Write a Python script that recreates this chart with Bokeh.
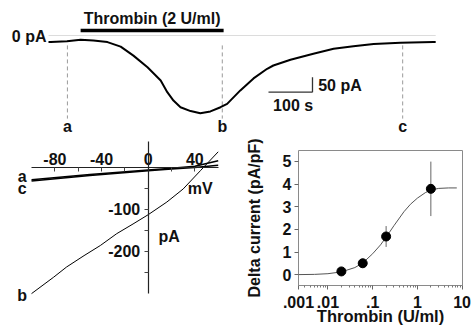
from bokeh.plotting import figure
from bokeh.layouts import column, row
from bokeh.models import LinearAxis, FixedTicker, Range1d
from bokeh.core.properties import value
from bokeh.embed import file_html
from bokeh.resources import INLINE

FONT = "Liberation Sans"
TXT = "#111111"

# ---------------- data: current trace (top) ----------------
trace_time_s = [0, 5, 42, 73, 102, 134, 164, 193, 225, 255, 270, 284, 300, 323, 345,
                368, 391, 406, 436, 466, 497, 511, 550, 602, 648, 693, 739, 800, 875, 880]
trace_current_pA = [-22, -22, -19, -14, -17, -22, -37, -67, -106, -150, -189, -217, -239,
                    -252, -259, -253, -239, -228, -183, -143, -111, -100, -81, -61, -44,
                    -36, -28, -24, -22, -22]
ramp_labels = ["a", "b", "c"]
ramp_times_s = [43, 395, 805]
thrombin_start_s = 73
thrombin_end_s = 398
thrombin_text = "Thrombin (2 U/ml)"
scale_time_s = 100
scale_current_pA = 50

# ---------------- data: I-V ramps (bottom left) ----------------
iv_a_mV = [-100, -50, 0, 20, 40, 60]
iv_a_pA = [-30, -18, -7, -3, 2, 15]
iv_c_mV = [-100, -50, 0, 20, 40, 60]
iv_c_pA = [-33, -20, -9, -5, -1, 4]
iv_b_mV = [-100, -81, -70, -55, -41, -27, -13, 0, 16, 30, 45, 60]
iv_b_pA = [-300, -261, -237, -210, -186, -158, -135, -113, -83, -52, -8, 36]
iv_x_ticks = [-80, -60, -40, -20, 0, 20, 40]
iv_x_labels = ["-80", "", "-40", "", "0", "", "40"]
iv_y_ticks = [-250, -200, -150, -100, -50]
iv_y_labels = ["", "-200", "", "-100", ""]

# ---------------- data: dose response (bottom right) ----------------
dose_U_ml = [0.02, 0.06, 0.2, 2.0]
delta_pA_pF = [0.15, 0.51, 1.69, 3.79]
delta_err = [0.05, 0.2, 0.46, 1.2]
fit_dose = [0.0022, 0.005, 0.01, 0.02, 0.04, 0.06, 0.1, 0.15, 0.2, 0.3, 0.5, 0.7,
            1.0, 1.5, 2.0, 3.0, 5.0, 7.6]
fit_delta = [0.01, 0.02, 0.05, 0.13, 0.32, 0.52, 0.93, 1.32, 1.66, 2.17, 2.78, 3.11,
             3.38, 3.62, 3.74, 3.81, 3.83, 3.83]
dr_x_start = 0.0022
dr_x_ticks = [dr_x_start, 0.01, 0.1, 1, 10]
dr_x_labels = [".001", ".01", ".1", "1", "10"]
dr_y_ticks = [0, 1, 2, 3, 4, 5]
dr_y_title = "Delta current (pA/pF)"
dr_x_title = "Thrombin (U/ml)"


def txt(p, x, y, t, align="center", baseline="middle", size="16px"):
    p.text(x=x, y=y, text=t, text_font=value(FONT), text_font_style="bold",
           text_font_size=size, text_color=TXT, text_align=align,
           text_baseline=baseline)


# ================= top: whole-cell current =================
top = figure(width=471, height=137, x_range=Range1d(-109.1, 961.4),
             y_range=Range1d(-340, 116.7), output_backend="svg",
             toolbar_location=None, x_axis_location=None, y_axis_location=None,
             min_border=0, outline_line_color=None, frame_align=False)
top.grid.visible = False

top.line([trace_time_s[0], trace_time_s[-1]], [0, 0], color="#dcdcdc", line_width=1)
top.segment(x0=ramp_times_s, y0=-33, x1=ramp_times_s, y1=-277,
            line_color="#9a9a9a", line_width=1, line_dash="4 3")
top.line(trace_time_s, trace_current_pA, color="black", line_width=2)
txt(top, ramp_times_s, [-303] * 3, ramp_labels)

top.segment(x0=[thrombin_start_s], y0=[17], x1=[thrombin_end_s], y1=[17],
            line_color="black", line_width=3.5)
txt(top, [(thrombin_start_s + thrombin_end_s) / 2], [57], [thrombin_text])
txt(top, [-4.5], [-4], ["0 pA"], align="right")

sb_t, sb_i = 500, -189
top.segment(x0=[sb_t, sb_t + scale_time_s], y0=[sb_i, sb_i],
            x1=[sb_t + scale_time_s, sb_t + scale_time_s],
            y1=[sb_i, sb_i + scale_current_pA], line_color="#333333", line_width=1.3)
txt(top, [sb_t + scale_time_s + 13], [sb_i + 24], [f"{scale_current_pA} pA"], align="left")
txt(top, [sb_t + scale_time_s / 2 + 6], [sb_i - 44], [f"{scale_time_s} s"])

# ================= bottom left: I-V =================
iv = figure(width=231, height=190, x_range=Range1d(-126.6, 71.4),
            y_range=Range1d(-380.3, 69.9), output_backend="svg",
            toolbar_location=None, x_axis_location=None, y_axis_location=None,
            min_border=0, outline_line_color=None, frame_align=False)
iv.grid.visible = False

xax = LinearAxis(fixed_location=0, bounds=(-100, 60),
                 ticker=FixedTicker(ticks=iv_x_ticks),
                 major_label_overrides=dict(zip(iv_x_ticks, iv_x_labels)))
yax = LinearAxis(fixed_location=0, bounds=(-300, 60),
                 ticker=FixedTicker(ticks=iv_y_ticks),
                 major_label_overrides=dict(zip(iv_y_ticks, iv_y_labels)))
for ax in (xax, yax):
    ax.axis_line_color = "#222222"
    ax.axis_line_width = 1.2
    ax.major_tick_line_color = "#444444"
    ax.minor_tick_line_color = None
    ax.major_label_text_font = FONT
    ax.major_label_text_font_style = "bold"
    ax.major_label_text_font_size = "16px"
    ax.major_label_text_color = TXT
xax.major_tick_in = 4
xax.major_tick_out = 0
xax.major_label_standoff = 2
yax.major_tick_in = 0
yax.major_tick_out = 4
yax.major_label_standoff = 4
iv.add_layout(xax, "above")
iv.add_layout(yax, "left")

iv.line(iv_a_mV, iv_a_pA, color="black", line_width=1.5)
iv.line(iv_c_mV, iv_c_pA, color="black", line_width=1.5)
iv.line(iv_b_mV, iv_b_pA, color="black", line_width=1)
txt(iv, [-108, -108, -108], [-22, -51, -304], ["a", "c", "b"])
txt(iv, [44.6], [-51], ["mV"])
txt(iv, [18], [-165], ["pA"])

# ================= bottom right: dose response =================
dr = figure(width=240, height=190, x_axis_type="log",
            x_range=Range1d(dr_x_start, 10.2), y_range=Range1d(-0.47, 5.48),
            output_backend="svg", toolbar_location=None,
            min_border_left=67, min_border_right=9, min_border_top=13,
            min_border_bottom=42, outline_line_color="#8a8a8a", frame_align=False)
dr.grid.visible = False
minor = [m * 10.0 ** e for e in (-3, -2, -1, 0) for m in range(2, 10)]
dr.xaxis.ticker = FixedTicker(ticks=dr_x_ticks, minor_ticks=minor)
dr.xaxis.major_label_overrides = dict(zip(dr_x_ticks, dr_x_labels))
dr.yaxis.ticker = FixedTicker(ticks=dr_y_ticks)
for ax in (dr.xaxis[0], dr.yaxis[0]):
    ax.axis_line_color = None
    ax.major_tick_line_color = "#666666"
    ax.minor_tick_line_color = "#777777"
    ax.major_tick_in = 0
    ax.major_tick_out = 4
    ax.minor_tick_in = 0
    ax.minor_tick_out = 2
    ax.major_label_text_font = FONT
    ax.major_label_text_font_style = "bold"
    ax.major_label_text_font_size = "16px"
    ax.major_label_text_color = TXT
    ax.axis_label_text_font = FONT
    ax.axis_label_text_font_style = "bold"
    ax.axis_label_text_color = TXT
dr.yaxis.minor_tick_line_color = None
dr.yaxis.major_label_standoff = 3
dr.yaxis.axis_label = dr_y_title
dr.yaxis.axis_label_text_font_size = "16px"
dr.yaxis.axis_label_standoff = 17
dr.xaxis.major_label_standoff = 6
dr.xaxis.axis_label = dr_x_title
dr.xaxis.axis_label_text_font_size = "16.5px"
dr.xaxis.axis_label_standoff = -4

dr.line(fit_dose, fit_delta, color="#555555", line_width=1)
dr.segment(x0=dose_U_ml, x1=dose_U_ml,
           y0=[m - e for m, e in zip(delta_pA_pF, delta_err)],
           y1=[m + e for m, e in zip(delta_pA_pF, delta_err)],
           line_color="#666666", line_width=1)
dr.scatter(dose_U_ml, delta_pA_pF, size=9, color="black")

layout = column(top, row(iv, dr, spacing=0), spacing=0)
open("out.html", "w").write(file_html(layout, INLINE))
